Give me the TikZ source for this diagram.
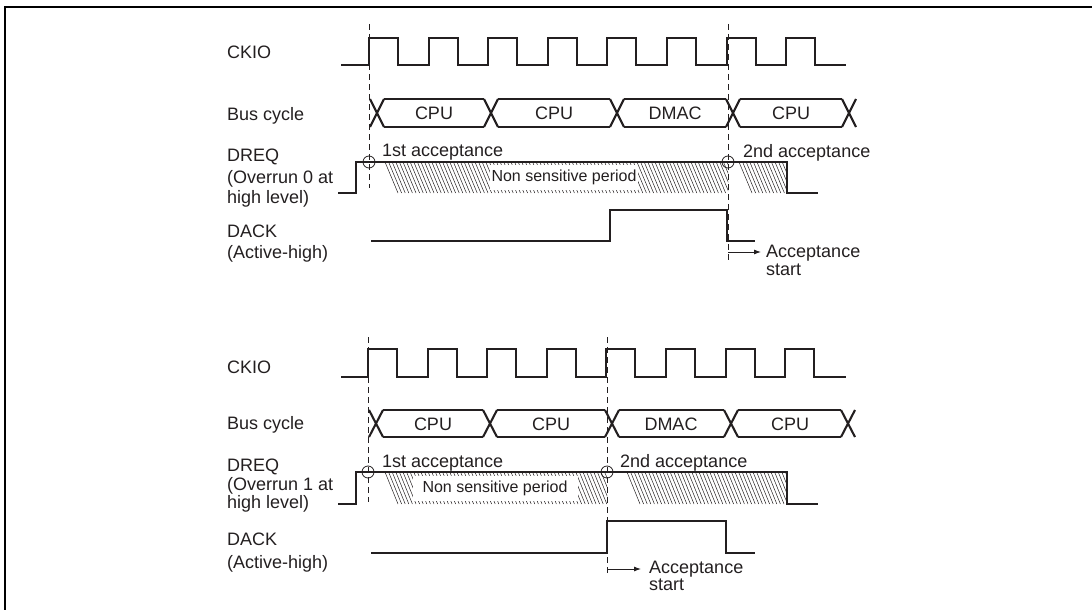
\documentclass[tikz,border=0pt]{standalone}
\usepackage{fontspec}
\setmainfont{Liberation Sans}
\usetikzlibrary{arrows.meta}
\definecolor{ink}{RGB}{35,31,32}
\begin{document}
\begin{tikzpicture}[x=1pt,y=-1pt,
  sig/.style={line width=2.1pt,draw=ink,line join=miter},
  guide/.style={line width=0.9pt,draw=ink,dash pattern=on 6pt off 4pt},
  hatchline/.style={line width=0.5pt,draw=ink},
  lbl/.style={anchor=base west,inner sep=0pt,text=ink,font=\fontsize{18}{21}\selectfont},
  celltext/.style={inner sep=0pt,text=ink,font=\fontsize{18}{21}\selectfont},
  nsp/.style={fill=white,text=ink,inner sep=2pt,minimum height=25pt,font=\fontsize{16}{18}\selectfont},
  acc/.style={circle,draw=ink,line width=0.8pt,minimum size=12pt,inner sep=0pt},
  startarrow/.style={line width=0.9pt,draw=ink,-{Latex[length=7pt,width=5pt]}}
]
\useasboundingbox (0,0) rectangle (1092,610);
% frame
\draw[line width=2.4pt,draw=black] (1095,7.3) -- (5,7.3) -- (5,613);

% ================= TOP DIAGRAM =================
% labels
\node[lbl] (ckioA) at (227,59) {CKIO};
\node[lbl] (busA) at (227,120) {Bus cycle};
\node[lbl] (dreqA1) at (227,161) {DREQ};
\node[lbl] (dreqA2) at (227,183) {(Overrun 0 at};
\node[lbl] (dreqA3) at (227,203) {high level)};
\node[lbl] (dackA1) at (227,237) {DACK};
\node[lbl] (dackA2) at (227,258) {(Active-high)};

% hatch
\begin{scope}
  \clip (385,162) rectangle (728,193);
  \foreach \x in {385,388.6,...,735} \draw[hatchline] (\x,162) -- ++(13,31);
\end{scope}
\begin{scope}
  \clip (739,162) rectangle (787,193);
  \foreach \x in {739,742.6,...,790} \draw[hatchline] (\x,162) -- ++(13,31);
\end{scope}
\node[nsp] (nspA) at (564,177.5) {Non sensitive period};

% CKIO
\draw[sig] (341,65) \foreach \k in {0,...,7} { -- ({369+59.6*\k},65) -- ({369+59.6*\k},38) -- ({398+59.6*\k},38) -- ({398+59.6*\k},65) } -- (846,65);

% bus cycle
\foreach \c in {377,491,617,733,849} \draw[sig] (\c-7,99) -- (\c+7,127) (\c-7,127) -- (\c+7,99);
\foreach \a/\b in {377/491,491/617,617/733,733/849} \draw[sig] (\a+7,99) -- (\b-7,99) (\a+7,127) -- (\b-7,127);
\node[celltext] (cA1) at (434,113) {CPU};
\node[celltext] (cA2) at (554,113) {CPU};
\node[celltext] (cA3) at (675,113) {DMAC};
\node[celltext] (cA4) at (791,113) {CPU};

% DREQ
\draw[sig] (338,193) -- (356,193) -- (356,162) -- (787,162) -- (787,193) -- (818,193);
\node[acc] (accA1) at (369,162) {};
\node[acc] (accA2) at (728,162) {};
\node[lbl] (acctA1) at (382,156) {1st acceptance};
\node[lbl] (acctA2) at (743,157) {2nd acceptance};

% DACK
\draw[sig] (371,241) -- (610,241) -- (610,210) -- (727,210) -- (727,241) -- (755,241);

% guides
\coordinate (gA1t) at (369,24);
\coordinate (gA1b) at (369,188);
\coordinate (gA2t) at (728,24);
\coordinate (gA2b) at (728,263);
\draw[guide] (gA1t) -- (gA1b);
\draw[guide] (gA2t) -- (gA2b);

% acceptance start
\coordinate (asA0) at (728,252);
\coordinate (asA1) at (761,252);
\draw[startarrow] (asA0) -- (asA1);
\node[lbl] (astA1) at (766,257) {Acceptance};
\node[lbl] (astA2) at (766,275) {start};

% ================= BOTTOM DIAGRAM =================
\node[lbl] (ckioB) at (227,373) {CKIO};
\node[lbl] (busB) at (227,429) {Bus cycle};
\node[lbl] (dreqB1) at (227,471) {DREQ};
\node[lbl] (dreqB2) at (227,490) {(Overrun 1 at};
\node[lbl] (dreqB3) at (227,508) {high level)};
\node[lbl] (dackB1) at (227,545) {DACK};
\node[lbl] (dackB2) at (227,568) {(Active-high)};

% hatch
\begin{scope}
  \clip (385,472) rectangle (607,504);
  \foreach \x in {385,388.6,...,615} \draw[hatchline] (\x,472) -- ++(13,32);
\end{scope}
\begin{scope}
  \clip (627,472) rectangle (787,504);
  \foreach \x in {627,630.6,...,790} \draw[hatchline] (\x,472) -- ++(13,32);
\end{scope}
\node[nsp,minimum width=165pt] (nspB) at (495,488) {Non sensitive period};

% CKIO
\draw[sig] (341,377) \foreach \k in {0,...,7} { -- ({368+59.6*\k},377) -- ({368+59.6*\k},349) -- ({397+59.6*\k},349) -- ({397+59.6*\k},377) } -- (846,377);

% bus cycle
\foreach \c in {376,490,612,731,848} \draw[sig] (\c-7,410) -- (\c+7,437) (\c-7,437) -- (\c+7,410);
\foreach \a/\b in {376/490,490/612,612/731,731/848} \draw[sig] (\a+7,410) -- (\b-7,410) (\a+7,437) -- (\b-7,437);
\node[celltext] (cB1) at (433,424) {CPU};
\node[celltext] (cB2) at (551,424) {CPU};
\node[celltext] (cB3) at (671,424) {DMAC};
\node[celltext] (cB4) at (790,424) {CPU};

% DREQ
\draw[sig] (338,504) -- (356,504) -- (356,472) -- (787,472) -- (787,504) -- (818,504);
\node[acc] (accB1) at (368,472) {};
\node[acc] (accB2) at (607,472) {};
\node[lbl] (acctB1) at (382,467) {1st acceptance};
\node[lbl] (acctB2) at (620,467) {2nd acceptance};

% DACK
\draw[sig] (371,553) -- (607,553) -- (607,521) -- (726,521) -- (726,553) -- (755,553);

% guides
\coordinate (gB1t) at (368,337);
\coordinate (gB1b) at (368,502);
\coordinate (gB2t) at (607,337);
\coordinate (gB2b) at (607,575);
\draw[guide] (gB1t) -- (gB1b);
\draw[guide] (gB2t) -- (gB2b);

% acceptance start
\coordinate (asB0) at (607,569);
\coordinate (asB1) at (641,569);
\draw[startarrow] (asB0) -- (asB1);
\node[lbl] (astB1) at (649,573) {Acceptance};
\node[lbl] (astB2) at (649,590) {start};
\end{tikzpicture}
\end{document}
